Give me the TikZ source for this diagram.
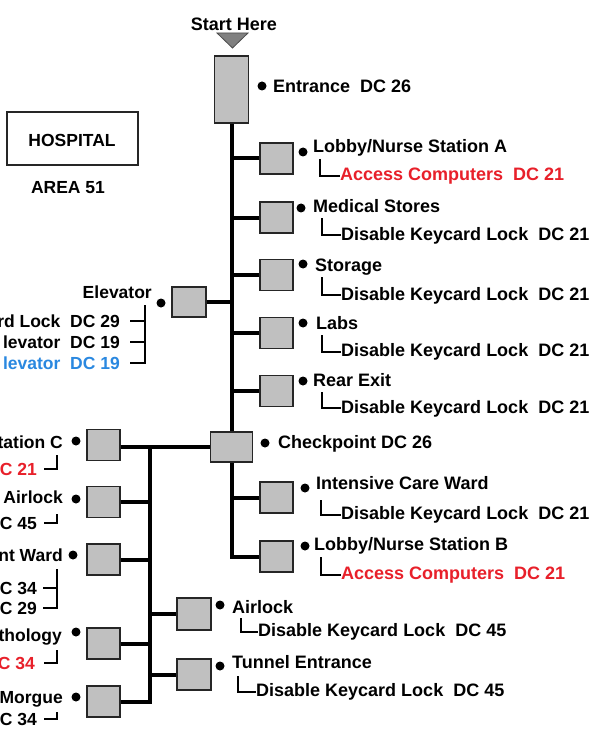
\documentclass[tikz,border=0pt]{standalone}
\usepackage{fontspec}
\setmainfont{Liberation Sans}
\definecolor{accred}{HTML}{E8202A}
\definecolor{accblue}{HTML}{2A88E0}
\definecolor{roomgray}{HTML}{C0C0C0}
\newcommand{\lblfont}{\fontsize{18}{20}\selectfont\bfseries}
\newcommand{\leftfont}{\fontsize{17.5}{20}\selectfont\bfseries}
\begin{document}
\begin{tikzpicture}[x=1pt,y=-1pt,
  room/.style={draw=black!85,fill=roomgray,line width=1.3pt,minimum width=33pt,minimum height=31pt,inner sep=0pt},
  trunk/.style={line width=4pt},
  tickline/.style={line width=2pt},
  lbl/.style={font=\lblfont,inner sep=0pt,anchor=base west},
  lblr/.style={font=\leftfont,inner sep=0pt,anchor=base east},
  dot/.style={circle,fill=black,inner sep=0pt,minimum size=9pt},
]
\useasboundingbox (0,0) rectangle (600,751);
\clip (0,0) rectangle (600,751);
\fill[white] (0,0) rectangle (600,751);

% title and legend
\node[font=\lblfont,inner sep=0pt,anchor=base] (start) at (234,30.5) {Start Here};
\filldraw[fill=gray,draw=black!70,line width=0.8pt] (217,33) -- (248,33) -- (232.5,48) -- cycle;
\node[draw=black!85,line width=1.5pt,minimum width=131pt,minimum height=53pt,inner sep=0pt] (hosp) at (72.5,138.5) {};
\node[font=\leftfont,inner sep=0pt,anchor=base] (hosplbl) at (72,146.5) {HOSPITAL};
\node[font=\leftfont,inner sep=0pt,anchor=base] (area) at (68,193.5) {AREA 51};

% rooms on main trunk
\node[room,minimum width=34pt,minimum height=67pt] (entr) at (231.5,89.5) {};
\node[room] (lobA) at (276.5,158.5) {};
\node[room] (med) at (276.5,217.5) {};
\node[room] (stor) at (276.5,275) {};
\node[room] (labs) at (276.5,333) {};
\node[room] (rear) at (276.5,391) {};
\node[room,minimum width=42pt,minimum height=30pt] (chk) at (231.5,447) {};
\node[room] (icu) at (276.5,497.5) {};
\node[room] (lobB) at (276.5,556.5) {};
\node[room,minimum width=34pt,minimum height=30pt] (elev) at (189,302) {};

% rooms on lower-left trunk
\node[room] (lC) at (103.5,445) {};
\node[room] (lAir) at (103.5,502) {};
\node[room] (lWard) at (103.5,559.5) {};
\node[room] (lPath) at (103.5,643.5) {};
\node[room] (lMorg) at (103.5,701.5) {};
\node[room,minimum width=34pt,minimum height=32pt] (air) at (194,614) {};
\node[room,minimum width=34pt] (tun) at (194,674.5) {};

% trunks
\coordinate (ltop) at (150,447);
\begin{scope}[trunk]
\draw (entr.south) -- (chk.north);
\draw (chk.south) |- (lobB.west);
\draw (lobA.west) -- (lobA.west -| entr.south);
\draw (med.west) -- (med.west -| entr.south);
\draw (stor.west) -- (stor.west -| entr.south);
\draw (labs.west) -- (labs.west -| entr.south);
\draw (rear.west) -- (rear.west -| entr.south);
\draw (icu.west) -- (icu.west -| chk.south);
\draw (elev.east) -- (elev.east -| entr.south);
\draw (lC.east |- ltop) -- (chk.west |- ltop);
\draw (ltop) |- (lMorg.east);
\draw (lAir.east) -- (lAir.east -| ltop);
\draw (lWard.east) -- (lWard.east -| ltop);
\draw (lPath.east) -- (lPath.east -| ltop);
\draw (air.west) -- (air.west -| ltop);
\draw (tun.west) -- (tun.west -| ltop);
\end{scope}

% bullets
\node[dot] (d-entr) at (262,86) {};
\node[dot] (d-lobA) at (303,152) {};
\node[dot] (d-med) at (301,208) {};
\node[dot] (d-stor) at (303,264) {};
\node[dot] (d-labs) at (303,323) {};
\node[dot] (d-rear) at (303,381) {};
\node[dot] (d-chk) at (265,443) {};
\node[dot] (d-icu) at (305,488) {};
\node[dot] (d-lobB) at (305,546) {};
\node[dot] (d-air) at (220,605) {};
\node[dot] (d-tun) at (220,666) {};
\node[dot] (d-elev) at (161,303) {};
\node[dot] (d-lC) at (76,441) {};
\node[dot] (d-lAir) at (76,499) {};
\node[dot] (d-lWard) at (73,555) {};
\node[dot] (d-lPath) at (76,632) {};
\node[dot] (d-lMorg) at (76,697) {};

% right side labels
\node[lbl] (t-entr) at (273,92.5) {Entrance~~DC 26};
\node[lbl] (t-lobA) at (313,152.5) {Lobby/Nurse Station A};
\node[lbl,text=accred] (s-lobA) at (340,180.5) {Access Computers~~DC 21};
\node[lbl] (t-med) at (313,212.5) {Medical Stores};
\node[lbl] (s-med) at (341,240) {Disable Keycard Lock~~DC 21};
\node[lbl] (t-stor) at (315,271.5) {Storage};
\node[lbl] (s-stor) at (341,300) {Disable Keycard Lock~~DC 21};
\node[lbl] (t-labs) at (316,329) {Labs};
\node[lbl] (s-labs) at (341,356.5) {Disable Keycard Lock~~DC 21};
\node[lbl] (t-rear) at (313,386.5) {Rear Exit};
\node[lbl] (s-rear) at (341,413) {Disable Keycard Lock~~DC 21};
\node[lbl] (t-chk) at (278,448.5) {Checkpoint DC 26};
\node[lbl] (t-icu) at (316,489.5) {Intensive Care Ward};
\node[lbl] (s-icu) at (341,519.5) {Disable Keycard Lock~~DC 21};
\node[lbl] (t-lobB) at (314,550.5) {Lobby/Nurse Station B};
\node[lbl,text=accred] (s-lobB) at (341,579.5) {Access Computers~~DC 21};
\node[lbl] (t-air) at (232,613.5) {Airlock};
\node[lbl] (s-air) at (258,636.5) {Disable Keycard Lock~~DC 45};
\node[lbl] (t-tun) at (232,668.5) {Tunnel Entrance};
\node[lbl] (s-tun) at (256,696.5) {Disable Keycard Lock~~DC 45};

% sub-item hooks (right side)
\begin{scope}[tickline]
\draw (320,159) |- (s-lobA.west);
\draw (322,218) |- (s-med.west);
\draw (322,277) |- (s-stor.west);
\draw (322,335) |- (s-labs.west);
\draw (322,392) |- (s-rear.west);
\draw (321,500) |- (s-icu.west);
\draw (321,557) |- (s-lobB.west);
\draw (241,618) |- (s-air.west);
\draw (238,676) |- (s-tun.west);
\end{scope}

% elevator labels
\node[lblr] (t-elev) at (152,298.5) {Elevator};
\node[lblr] (e1) at (120,327.5) {rd Lock~~DC 29};
\node[lblr] (e2) at (120,348.5) {levator~~DC 19};
\node[lblr,text=accblue] (e3) at (120,369.5) {levator~~DC 19};
\coordinate (ebr) at (145,305);
\begin{scope}[tickline]
\draw (ebr) |- ([xshift=10pt]e3.east);
\draw ([xshift=10pt]e1.east) -- (e1.east -| ebr);
\draw ([xshift=10pt]e2.east) -- (e2.east -| ebr);
\end{scope}

% lower-left labels
\node[lblr] (t-lC) at (63,448.5) {tation C};
\node[lblr,text=accred] (s-lC) at (37,475.5) {C 21};
\node[lblr] (t-lAir) at (63,503.5) {Airlock};
\node[lblr] (s-lAir) at (37,529.5) {C 45};
\node[lblr] (t-lWard) at (63,561.5) {nt Ward};
\node[lblr] (s-lWard1) at (37,594.5) {DC 34};
\node[lblr] (s-lWard2) at (37,614.5) {C 29};
\node[lblr] (t-lPath) at (62,641.5) {thology};
\node[lblr,text=accred] (s-lPath) at (35,669.5) {C 34};
\node[lblr] (t-lMorg) at (63,703.5) {Morgue};
\node[lblr] (s-lMorg) at (37,725.5) {C 34};
\begin{scope}[tickline]
\draw (57,455) |- ([xshift=7pt]s-lC.east);
\draw (57,514) |- ([xshift=7pt]s-lAir.east);
\draw (57,569) |- ([xshift=6pt]s-lWard2.east);
\draw ([xshift=6pt]s-lWard1.east) -- (s-lWard1.east -| 57,0);
\draw (57,650) |- ([xshift=9pt]s-lPath.east);
\draw (57,712) |- ([xshift=7pt]s-lMorg.east);
\end{scope}
\end{tikzpicture}
\end{document}
